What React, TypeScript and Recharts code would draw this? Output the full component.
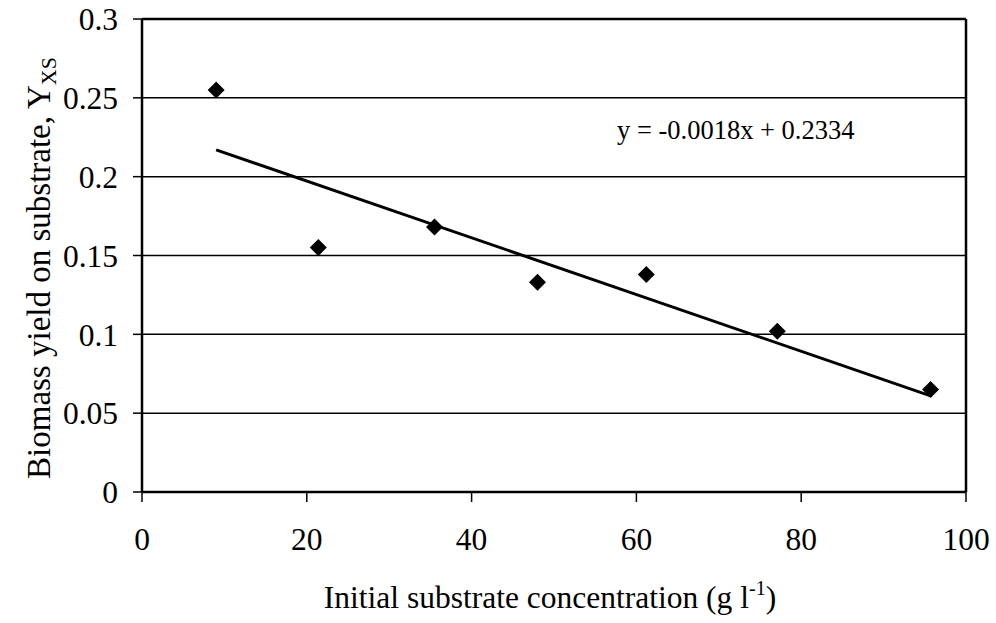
import React from 'react';
import { ComposedChart, Scatter, XAxis, YAxis, CartesianGrid, ReferenceLine } from 'recharts';

// measured points (initial substrate g/l vs biomass yield)
const substrate = [9, 21.4, 35.5, 48, 61.2, 77.1, 95.7];
const yieldXS = [0.255, 0.155, 0.168, 0.133, 0.138, 0.102, 0.065];

// linear trend endpoints, y = -0.0018x + 0.2334
const trendX = [9, 95.7];
const trendY = [0.217, 0.061];

const xTicks = [0, 20, 40, 60, 80, 100];
const yTicks = [0, 0.05, 0.1, 0.15, 0.2, 0.25, 0.3];

const points = substrate.map((x, i) => ({ x, y: yieldXS[i] }));
const trend = trendX.map((x, i) => ({ x, y: trendY[i] }));

const FONT = '"Liberation Serif", "Times New Roman", serif';

const Diamond = (props: any) => {
  const { cx, cy } = props;
  const r = 8.5;
  return <path d={`M${cx},${cy - r}L${cx + r},${cy}L${cx},${cy + r}L${cx - r},${cy}Z`} fill="#000" />;
};

const NoDot = () => <g />;

const App: React.FC = () => {
  const tickStyle = { fontFamily: FONT, fontSize: 31.5, fill: '#000' };
  return (
    <div style={{ position: 'absolute', left: 0, top: 0, width: 996, height: 623, background: '#fff' }}>
      <ComposedChart width={996} height={623} margin={{ top: 19, right: 30, bottom: 71, left: 0 }}>
        <CartesianGrid horizontal vertical={false} stroke="#000" strokeWidth={1.5} horizontalValues={yTicks} />
        <XAxis
          type="number"
          dataKey="x"
          domain={[0, 100]}
          ticks={xTicks}
          height={60}
          tick={tickStyle}
          tickSize={10}
          tickMargin={26}
          axisLine={{ stroke: '#000', strokeWidth: 2.5 }}
          tickLine={{ stroke: '#000', strokeWidth: 1.5 }}
          allowDataOverflow
        />
        <YAxis
          type="number"
          dataKey="y"
          domain={[0, 0.3]}
          ticks={yTicks}
          width={142}
          tick={tickStyle}
          tickSize={9}
          tickMargin={15}
          axisLine={{ stroke: '#000', strokeWidth: 2.5 }}
          tickLine={{ stroke: '#000', strokeWidth: 1.5 }}
          allowDataOverflow
        />
        <ReferenceLine x={100} stroke="#000" strokeWidth={2.5} />
        <ReferenceLine y={0.3} stroke="#000" strokeWidth={2.5} />
        <Scatter data={trend} line={{ stroke: '#000', strokeWidth: 3 }} shape={NoDot} isAnimationActive={false} />
        <Scatter data={points} shape={Diamond} isAnimationActive={false} />
      </ComposedChart>
      <svg width={996} height={623} style={{ position: 'absolute', left: 0, top: 0, pointerEvents: 'none' }}>
        <text x={617} y={139} fontFamily={FONT} fontSize={26.5} fill="#000">
          y = -0.0018x + 0.2334
        </text>
        <text x={550} y={608} textAnchor="middle" fontFamily={FONT} fontSize={31.5} fill="#000">
          Initial substrate concentration (g l<tspan dy={-13} fontSize={20}>-1</tspan>
          <tspan dy={13}>)</tspan>
        </text>
        <text
          transform="translate(50,268) rotate(-90)"
          textAnchor="middle"
          fontFamily={FONT}
          fontSize={33}
          fill="#000"
        >
          Biomass yield on substrate, Y<tspan dy={6} fontSize={22}>XS</tspan>
        </text>
      </svg>
    </div>
  );
};

export default App;
